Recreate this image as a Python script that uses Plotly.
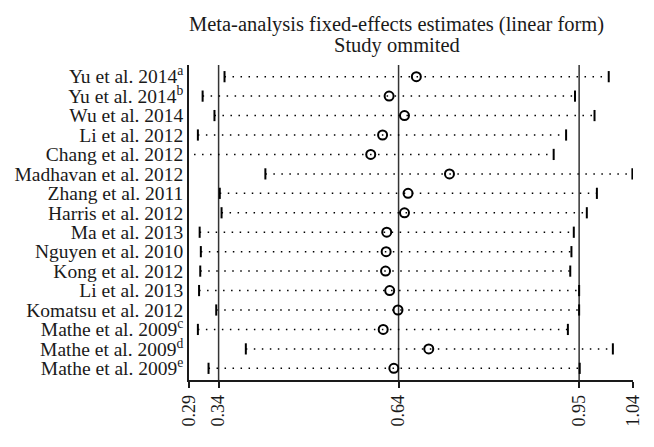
import plotly.graph_objects as go

studies = [
    "Yu et al. 2014<sup>a</sup>", "Yu et al. 2014<sup>b</sup>", "Wu et al. 2014", "Li et al. 2012",
    "Chang et al. 2012", "Madhavan et al. 2012", "Zhang et al. 2011", "Harris et al. 2012",
    "Ma et al. 2013", "Nguyen et al. 2010", "Kong et al. 2012", "Li et al. 2013",
    "Komatsu et al. 2012", "Mathe et al. 2009<sup>c</sup>", "Mathe et al. 2009<sup>d</sup>",
    "Mathe et al. 2009<sup>e</sup>",
]
estimate = [0.674, 0.628, 0.654, 0.617, 0.597, 0.730, 0.660, 0.654,
            0.624, 0.623, 0.622, 0.629, 0.643, 0.618, 0.695, 0.636]
lower = [0.350, 0.313, 0.333, 0.305, 0.285, 0.419, 0.342, 0.345,
         0.308, 0.310, 0.309, 0.307, 0.336, 0.305, 0.386, 0.323]
upper = [0.999, 0.942, 0.975, 0.927, 0.906, 1.039, 0.979, 0.962,
         0.940, 0.936, 0.934, 0.949, 0.949, 0.930, 1.006, 0.950]

tick_vals = [0.29, 0.34, 0.644, 0.949, 1.04]
tick_text = ["0.29", "0.34", "0.64", "0.95", "1.04"]
ref_lines = [0.34, 0.644, 0.949]

title_lines = ["Meta-analysis fixed-effects estimates (linear form)", "Study ommited"]

n = len(studies)
rows = [n - i for i in range(n)]  # first study at top

serif = "Liberation Serif"
ink = "#1a1a1a"

# dotted CI lines
ci_x, ci_y = [], []
for lo, hi, r in zip(lower, upper, rows):
    ci_x += [lo, hi, None]
    ci_y += [r, r, None]

fig = go.Figure()
fig.add_trace(go.Scatter(x=ci_x, y=ci_y, mode="lines",
                         line=dict(color="black", width=1.5, dash="1.5px,6.5px"),
                         hoverinfo="skip"))
# end ticks
fig.add_trace(go.Scatter(x=lower + upper, y=rows + rows, mode="markers",
                         marker=dict(symbol="line-ns", size=8, line=dict(color="black", width=2))))
# point estimates
fig.add_trace(go.Scatter(x=estimate, y=rows, mode="markers",
                         marker=dict(symbol="circle-open", size=9, color="black",
                                     line=dict(color="black", width=2))))

for v in ref_lines:
    fig.add_shape(type="line", x0=v, x1=v, y0=0, y1=1, yref="paper",
                  line=dict(color="#333", width=1.5), layer="below")

for txt, yy in zip(title_lines, [1.130, 1.063]):
    fig.add_annotation(text=txt, x=0.468, y=yy, xref="paper", yref="paper",
                       xanchor="center", yanchor="middle", showarrow=False,
                       font=dict(family=serif, size=20.5, color=ink))

# page body has an 8px margin, so the figure is 8px smaller and margins shifted
fig.update_layout(
    width=646, height=439,
    margin=dict(l=181, r=21, t=57, b=67),
    plot_bgcolor="white", paper_bgcolor="white",
    showlegend=False,
    font=dict(family=serif, color=ink, size=18),
)
fig.update_xaxes(range=[0.29, 1.04], tickvals=tick_vals, ticktext=tick_text, tickangle=-90,
                 showgrid=False, zeroline=False, showline=True, linecolor=ink, linewidth=1.5,
                 ticks="outside", ticklen=6, tickwidth=1.5, tickcolor=ink, automargin=False,
                 tickfont=dict(family=serif, size=18, color=ink))
fig.update_yaxes(range=[0.4, 16.6], tickvals=rows, ticktext=studies, automargin=False,
                 showgrid=False, zeroline=False, showline=True, linecolor=ink, linewidth=1.5,
                 ticks="", tickfont=dict(family=serif, size=19.5, color=ink))

fig.write_html("out.html")
